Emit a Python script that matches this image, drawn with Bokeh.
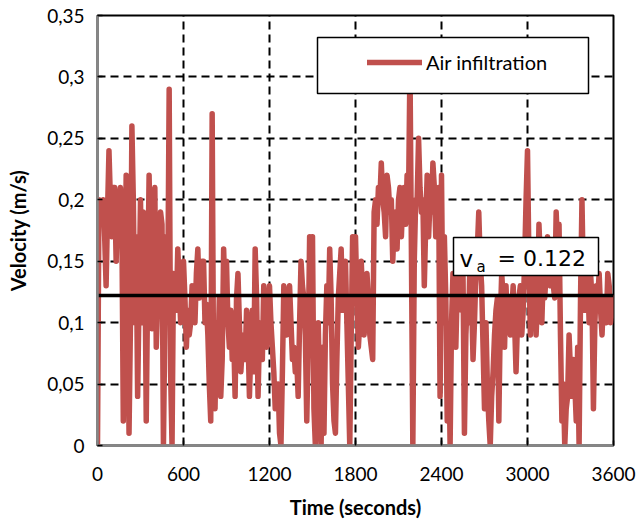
from bokeh.plotting import figure
from bokeh.models import FixedTicker, Range1d, Legend, LegendItem, BoxAnnotation, Label
from bokeh.embed import file_html
from bokeh.resources import INLINE

# ---------------- data ----------------
TIME = list(range(0, 3601, 10))
VELOCITY = [
    # 0 - 590 s
    0, 0.2, 0.19, 0.18, 0.2, 0.17, 0.13, 0.19, 0.24, 0.2,
    0.17, 0.21, 0.21, 0.15, 0.19, 0.2, 0.21, 0.18, 0.02, 0.12,
    0.22, 0.14, 0.01, 0.1, 0.26, 0.2, 0.1, 0.17, 0.04, 0.12,
    0.2, 0.1, 0.19, 0.17, 0.02, 0.13, 0.22, 0.15, 0.095, 0.2,
    0.21, 0.08, 0.12, 0.15, 0.19, 0.18, 0, 0.1, 0.17, 0.12,
    0.29, 0.06, 0, 0.14, 0.13, 0.11, 0.16, 0.13, 0.1, 0.14,
    # 600 - 1190 s
    0.15, 0.12, 0.08, 0.11, 0.09, 0.1, 0.13, 0.12, 0.1, 0.14,
    0.16, 0.12, 0.13, 0.15, 0.15, 0.1, 0.115, 0.09, 0.05, 0.02,
    0.27, 0.05, 0.03, 0.1, 0.07, 0.12, 0.04, 0.07, 0.16, 0.12,
    0.15, 0.1, 0.08, 0.11, 0.07, 0.09, 0.04, 0.12, 0.14, 0.1,
    0.06, 0.08, 0.09, 0.07, 0.11, 0.09, 0.04, 0.08, 0.11, 0.06,
    0.16, 0.12, 0.04, 0.09, 0.1, 0.07, 0.13, 0.1, 0.08, 0.11,
    # 1200 - 1790 s
    0.13, 0.1, 0.08, 0.06, 0.03, 0.04, 0.05, 0.01, 0, 0.06,
    0.13, 0.12, 0.09, 0.11, 0.13, 0.1, 0.07, 0.08, 0.06, 0.07,
    0.04, 0.1, 0.15, 0.13, 0.12, 0.09, 0.02, 0.08, 0.17, 0.13,
    0.17, 0.03, 0, 0.06, 0.1, 0.04, 0, 0.08, 0.01, 0.09,
    0.13, 0.1, 0.16, 0.12, 0.05, 0.02, 0.01, 0.07, 0.12, 0.14,
    0.16, 0.11, 0.13, 0.15, 0.1, 0.05, 0, 0.09, 0.17, 0.13,
    # 1800 - 2390 s
    0.17, 0.12, 0.08, 0.1, 0.15, 0.12, 0.09, 0.11, 0.14, 0.12,
    0.09, 0.08, 0.07, 0.19, 0.2, 0.18, 0.21, 0.2, 0.23, 0.2,
    0.19, 0.17, 0.22, 0.21, 0.19, 0.2, 0.15, 0.18, 0.19, 0.16,
    0.2, 0.21, 0.17, 0.2, 0.21, 0.18, 0.22, 0.2, 0.31, 0.16,
    0, 0.15, 0.2, 0.2, 0.25, 0.21, 0.19, 0.2, 0.13, 0.18,
    0.22, 0.17, 0.2, 0.19, 0.23, 0.21, 0.17, 0.19, 0.21, 0.04,
    # 2400 - 2990 s
    0.22, 0.1, 0.17, 0.12, 0.02, 0.09, 0, 0.1, 0.14, 0.12,
    0.08, 0.13, 0.16, 0.12, 0.11, 0.14, 0.01, 0.09, 0.12, 0.1,
    0.16, 0.12, 0.07, 0.1, 0.14, 0.16, 0.19, 0.15, 0.13, 0.08,
    0.03, 0.1, 0.05, 0.02, 0, 0.04, 0.06, 0.09, 0.11, 0.12,
    0.02, 0.1, 0.14, 0.12, 0.08, 0.13, 0.1, 0.12, 0.09, 0.11,
    0.13, 0.1, 0.06, 0.1, 0.12, 0.13, 0.09, 0.11, 0.15, 0.2,
    # 3000 - 3600 s
    0.24, 0.15, 0.09, 0.13, 0.12, 0.14, 0.09, 0.12, 0.18, 0.15,
    0.1, 0.14, 0.12, 0.14, 0.17, 0.15, 0.13, 0.16, 0.13, 0.12,
    0.19, 0.16, 0.18, 0.09, 0.02, 0.05, 0, 0.03, 0.04, 0.09,
    0.06, 0.04, 0.07, 0.05, 0.02, 0.08, 0, 0.12, 0.2, 0.13,
    0.11, 0.13, 0.14, 0.1, 0.14, 0.12, 0.03, 0.1, 0.13, 0.12,
    0.14, 0.11, 0.09, 0.12, 0.12, 0.1, 0.14, 0.13, 0.1, 0.11,
    0.12,
]
MEAN_VELOCITY = 0.122
SERIES_NAME = "Air infiltration"
MEAN_SYMBOL = "v"
MEAN_SUBSCRIPT = "a"
MEAN_TEXT = "= 0.122"

X_TICKS = [0, 600, 1200, 1800, 2400, 3000, 3600]
X_TICK_LABELS = ["0", "600", "1200", "1800", "2400", "3000", "3600"]
Y_TICKS = [0, 0.05, 0.1, 0.15, 0.2, 0.25, 0.3, 0.35]
Y_TICK_LABELS = ["0", "0,05", "0,1", "0,15", "0,2", "0,25", "0,3", "0,35"]
X_TITLE = "Time (seconds)"
Y_TITLE = "Velocity (m/s)"

# ---------------- layout helpers (reference-pixel -> data) ----------------
X0, X1 = X_TICKS[0], X_TICKS[-1]
Y0, Y1 = Y_TICKS[0], Y_TICKS[-1]
F_LEFT, F_RIGHT, F_TOP, F_BOTTOM = 97, 613, 15, 445


def px_x(px):
    return X0 + (px - F_LEFT) / (F_RIGHT - F_LEFT) * (X1 - X0)


def px_y(py):
    return Y0 + (F_BOTTOM - py) / (F_BOTTOM - F_TOP) * (Y1 - Y0)


RED = "#C0504D"
FONT = "Lato"

p = figure(
    frame_width=516, frame_height=430,
    min_border_left=97, min_border_right=23, min_border_top=15, min_border_bottom=77,
    x_range=Range1d(X0, X1), y_range=Range1d(Y0, Y1),
    output_backend="svg", toolbar_location=None,
    background_fill_color="white", border_fill_color="white",
)

line_r = p.line(TIME, VELOCITY, line_color=RED, line_width=5.5,
                line_join="round", line_cap="round")
p.line([X0, X1], [MEAN_VELOCITY, MEAN_VELOCITY], line_color="black", line_width=3.5)

# axes
p.xaxis.ticker = FixedTicker(ticks=X_TICKS)
p.yaxis.ticker = FixedTicker(ticks=Y_TICKS)
p.xaxis.major_label_overrides = dict(zip(X_TICKS, X_TICK_LABELS))
p.yaxis.major_label_overrides = dict(zip(Y_TICKS, Y_TICK_LABELS))
for ax in (p.xaxis[0], p.yaxis[0]):
    ax.axis_line_color = "#868686"
    ax.axis_line_width = 2.5
    ax.major_tick_in = 5
    ax.major_tick_out = 0
    ax.major_tick_line_color = "black"
    ax.major_tick_line_width = 1.5
    ax.minor_tick_line_color = None
    ax.major_label_text_font = FONT
    ax.major_label_text_font_size = "19px"
    ax.major_label_text_color = "black"
    ax.axis_label_text_font = FONT
    ax.axis_label_text_font_style = "bold"
    ax.axis_label_text_font_size = "20px"
    ax.axis_label_text_color = "black"
p.xaxis.axis_label = X_TITLE
p.yaxis.axis_label = Y_TITLE
p.xaxis.major_label_standoff = 21
p.xaxis.axis_label_standoff = 11
p.yaxis.major_label_standoff = 13
p.yaxis.axis_label_standoff = 14

# grid
p.xgrid.ticker = FixedTicker(ticks=X_TICKS)
p.ygrid.ticker = FixedTicker(ticks=Y_TICKS)
for g in (p.xgrid[0], p.ygrid[0]):
    g.grid_line_color = "black"
    g.grid_line_width = 2
    g.grid_line_dash = "8 5"

p.outline_line_color = "black"
p.outline_line_width = 2

# legend box + legend
legend_box = BoxAnnotation(left=px_x(317), right=px_x(588), top=px_y(37), bottom=px_y(93),
                           fill_color="white", fill_alpha=1,
                           line_color="black", line_alpha=1, line_width=1.5)
p.add_layout(legend_box)
legend = Legend(items=[LegendItem(label=SERIES_NAME, renderers=[line_r])],
                location=(270, 371), padding=0, margin=0,
                border_line_alpha=0, background_fill_alpha=0,
                glyph_width=55, glyph_height=20, label_height=20,
                label_standoff=4, label_text_font=FONT,
                label_text_font_size="20px", label_text_color="black")
p.add_layout(legend)

# mean value annotation box
mean_box = BoxAnnotation(left=px_x(453), right=px_x(598), top=px_y(237), bottom=px_y(275),
                         fill_color="white", fill_alpha=1,
                         line_color="black", line_alpha=1, line_width=1.5)
p.add_layout(mean_box)
p.add_layout(Label(x=px_x(459), y=px_y(258), text=MEAN_SYMBOL,
                   text_font="DejaVu Sans", text_font_size="23px",
                   text_baseline="alphabetic", text_color="black"))
p.add_layout(Label(x=px_x(476), y=px_y(266), text=MEAN_SUBSCRIPT,
                   text_font="DejaVu Sans", text_font_size="15px",
                   text_baseline="alphabetic", text_color="black"))
p.add_layout(Label(x=px_x(497), y=px_y(258), text=MEAN_TEXT,
                   text_font="DejaVu Sans", text_font_size="22px",
                   text_baseline="alphabetic", text_color="black"))

open("out.html", "w").write(file_html(p, INLINE))
